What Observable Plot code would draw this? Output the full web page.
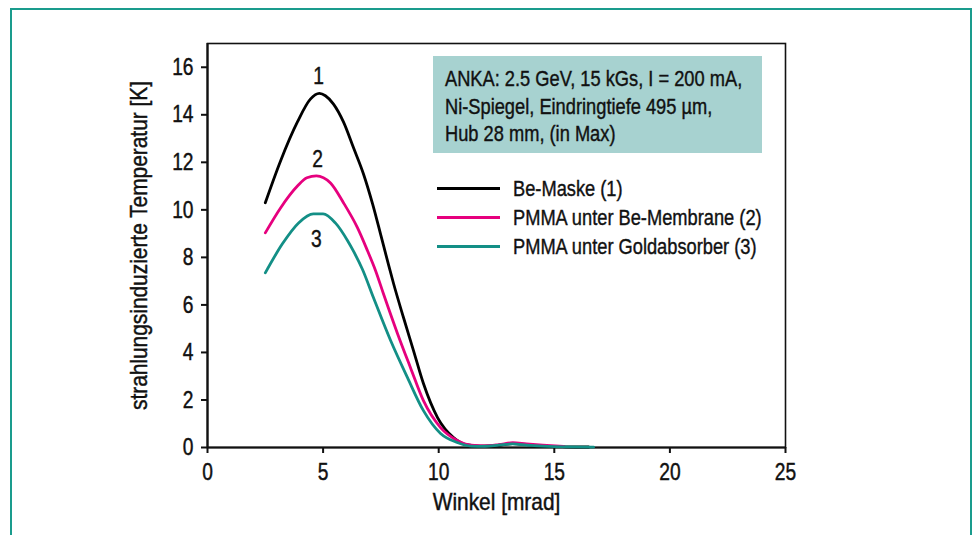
<!DOCTYPE html>
<html>
<head>
<meta charset="utf-8">
<script src="https://cdn.jsdelivr.net/npm/d3@7"></script>
<script src="https://cdn.jsdelivr.net/npm/@observablehq/plot@0.6"></script>
<style>
  html, body { margin: 0; padding: 0; background: #fff; }
  body { width: 973px; height: 535px; overflow: hidden; position: relative;
         font-family: "Liberation Sans", Arial, sans-serif; }
  #border { position: absolute; left: 10px; top: 8px; width: 962px; height: 560px;
            border: 2px solid #1a9c8d; box-sizing: border-box; pointer-events: none; }
  #chart { position: absolute; left: 0; top: 0; }
  #chart svg text { stroke: #111; stroke-width: 0.45px; }
  #note { position: absolute; left: 433px; top: 56px; width: 329px; height: 97px;
          background: #a7d2d0; box-sizing: border-box; padding: 9px 0 0 12px; color: #111; }
  #note .txt { font-size: 22px; line-height: 27.5px; white-space: nowrap; -webkit-text-stroke: 0.4px #111;
               transform: scaleX(0.83); transform-origin: 0 0; }
  #legend { position: absolute; left: 437px; top: 174px; font-size: 22px; color: #111; -webkit-text-stroke: 0.4px #111; }
  .row { display: flex; align-items: center; height: 29px; white-space: nowrap; }
  .sw { width: 63px; height: 3px; margin-right: 13px; flex: none; }
  .row span { display: inline-block; transform: scaleX(0.83); transform-origin: 0 50%; }
</style>
</head>
<body>
<div id="chart"></div>
<div id="note"><div class="txt"></div></div>
<div id="legend"></div>
<div id="border"></div>
<script>
// ---- data ----
const seriesNames = ["Be-Maske (1)", "PMMA unter Be-Membrane (2)", "PMMA unter Goldabsorber (3)"];
const seriesColors = ["#000000", "#e6007e", "#138f86"];
const curveLabels = ["1", "2", "3"];
const labelX = [4.8, 4.76, 4.71];
const labelY = [15.6, 12.14, 8.78];

const angle1 = [2.5, 3.16, 3.89, 4.45, 4.84, 5.1, 5.45, 5.88, 6.32, 6.75, 7.14, 7.48, 7.84, 8.05, 8.48, 8.91, 9.34, 9.95, 10.64, 11.2, 11.8, 12.5, 13.2, 13.8, 14.5, 15.5, 16.5];
const temp1  = [10.3, 12.06, 13.7, 14.66, 14.9, 14.8, 14.45, 13.7, 12.6, 11.5, 10.25, 9.0, 7.65, 6.89, 5.46, 4.08, 2.69, 1.26, 0.42, 0.12, 0.06, 0.08, 0.16, 0.12, 0.06, 0.03, 0.02];

const angle2 = [2.5, 3.16, 3.89, 4.3, 4.71, 5.32, 5.88, 6.49, 6.92, 7.27, 7.61, 8.22, 8.78, 9.34, 10.08, 10.8, 11.4, 12.0, 12.6, 13.2, 13.8, 14.5, 15.4];
const temp2  = [9.03, 10.08, 11.0, 11.35, 11.43, 11.13, 10.3, 9.24, 8.28, 7.44, 6.47, 4.79, 3.36, 1.97, 0.84, 0.3, 0.1, 0.07, 0.12, 0.2, 0.15, 0.1, 0.05];

const angle3 = [2.5, 3.24, 3.94, 4.58, 5.0, 5.53, 6.06, 6.32, 6.7, 7.18, 7.92, 8.65, 9.34, 10.08, 10.8, 11.4, 12.0, 12.6, 13.2, 13.8, 14.5, 15.5, 16.7];
const temp3  = [7.35, 8.57, 9.45, 9.83, 9.83, 9.45, 8.7, 8.25, 7.5, 6.3, 4.5, 2.94, 1.55, 0.59, 0.21, 0.06, 0.05, 0.1, 0.15, 0.1, 0.06, 0.03, 0.02];

const xTicks = [0, 5, 10, 15, 20, 25];
const yTicks = [0, 2, 4, 6, 8, 10, 12, 14, 16];
const noteLines = ["ANKA: 2.5 GeV, 15 kGs, I = 200 mA,", "Ni-Spiegel, Eindringtiefe 495 \u00b5m,", "Hub 28 mm, (in Max)"];

// ---- build ----
const angles = [angle1, angle2, angle3];
const temps = [temp1, temp2, temp3];
const rows = [];
angles.forEach((xs, s) => xs.forEach((x, i) => rows.push({series: s, x, y: temps[s][i]})));
const labels = curveLabels.map((t, i) => ({t, x: labelX[i], y: labelY[i]}));

const FONT = '"Liberation Sans", Arial, sans-serif';

const chart = Plot.plot({
  width: 973, height: 535,
  marginLeft: 207, marginRight: 188, marginTop: 43, marginBottom: 88,
  style: {fontFamily: FONT, fontSize: "24px", color: "#111", background: "transparent"},
  x: {domain: [0, 25]},
  y: {domain: [0, 17]},
  marks: [
    Plot.frame({stroke: "#111", strokeWidth: 1.6}),
    Plot.axisX({ticks: xTicks, tickSize: 6, tickPadding: 9, strokeWidth: 2, tickFormat: d => String(d),
                label: "Winkel [mrad]", labelAnchor: "center", labelArrow: "none", labelOffset: 62}),
    Plot.axisY({ticks: yTicks, tickSize: 6, tickPadding: 8, strokeWidth: 2, tickFormat: d => String(d),
                label: "strahlungsinduzierte Temperatur [K]", labelAnchor: "center", labelArrow: "none", labelOffset: 78}),
    Plot.ruleY([0], {stroke: "#111", strokeWidth: 2.2}),
    Plot.ruleX([0], {stroke: "#111", strokeWidth: 2.2}),
    ...[0, 1, 2].map(s => Plot.line(rows.filter(r => r.series === s), {
      x: "x", y: "y", stroke: seriesColors[s], strokeWidth: 2.8, curve: "monotone-x"
    })),
    Plot.text(labels, {x: "x", y: "y", text: "t", fontSize: 24, fill: "#111"})
  ]
});
document.getElementById("chart").appendChild(chart);

// condense SVG text horizontally (reference uses a condensed face)
chart.querySelectorAll("text").forEach(t => {
  const content = t.textContent;
  const s = content.length > 6 ? 0.87 : 0.8;
  const b = t.getBBox();
  const anchor = getComputedStyle(t).textAnchor;
  const px = anchor === "end" ? b.x + b.width : anchor === "middle" ? b.x + b.width / 2 : b.x;
  const prev = t.getAttribute("transform") || "";
  t.setAttribute("transform", `${prev} translate(${px},0) scale(${s},1) translate(${-px},0)`);
});

const note = document.querySelector("#note .txt");
noteLines.forEach(l => { const d = document.createElement("div"); d.textContent = l; note.appendChild(d); });

const legend = document.getElementById("legend");
seriesNames.forEach((n, i) => {
  const r = document.createElement("div"); r.className = "row";
  const sw = document.createElement("div"); sw.className = "sw"; sw.style.background = seriesColors[i];
  const t = document.createElement("span"); t.textContent = n;
  r.appendChild(sw); r.appendChild(t); legend.appendChild(r);
});
</script>
</body>
</html>
